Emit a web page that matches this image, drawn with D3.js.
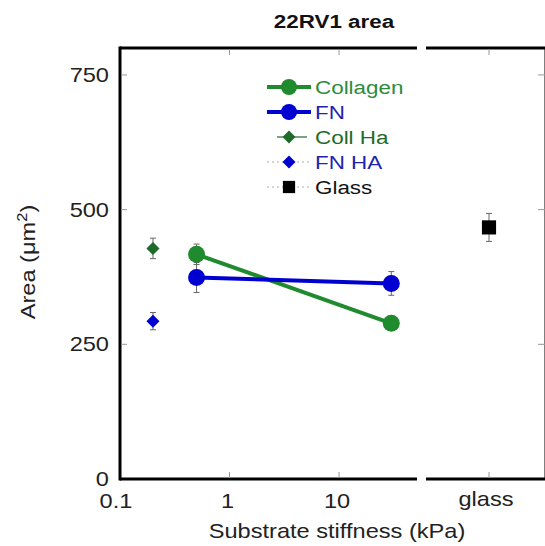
<!DOCTYPE html>
<html><head><meta charset="utf-8">
<script src="https://cdn.jsdelivr.net/npm/d3@7"></script>
<style>body{margin:0;background:#fff}svg{display:block}text{font-family:"Liberation Sans",Arial,sans-serif}</style>
</head><body><svg id="c" width="545" height="546"></svg>
<script>
// data
const stiffness = [0.5, 30];
const collagen = [417, 289];
const collagenErr = [19, 8];
const fn = [374, 363];
const fnErr = [28, 22];
const collHaX = [0.2];
const collHa = [428];
const collHaErr = [19];
const fnHaX = [0.2];
const fnHa = [293];
const fnHaErr = [16];
const glassCat = ["glass"];
const glass = [467];
const glassErr = [26];
const yTicks = [0, 250, 500, 750];
const xTicks = [0.1, 1, 10];
const legendNames = ["Collagen", "FN", "Coll Ha", "FN HA", "Glass"];

const green = "#1f8a2e", blue = "#0000d0", dgreen = "#1d6a2a", black = "#000";
const SX = 1.18; // horizontal text stretch seen in the reference
const svg = d3.select("#c");
const yTop = 48, yBot = 479;
const y = d3.scaleLinear().domain([0, 800]).range([yBot, yTop]);
const x = d3.scaleLog().domain([0.1, 51.5]).range([120, 417]);
const xg = d3.scalePoint().domain(glassCat).range([426, 552]).padding(0.5);

function txt(g, px, py, s, anchor, size, fill, extra) {
  return g.append("text").attr("transform", `translate(${px},${py}) scale(${SX},1)`)
    .attr("text-anchor", anchor).attr("font-size", size).attr("fill", fill).text(s);
}

// axes lines
const ax = svg.append("g").attr("stroke", "#000").attr("stroke-width", 3).attr("fill", "none");
ax.append("line").attr("x1", 120).attr("x2", 120).attr("y1", yTop - 1.5).attr("y2", yBot + 1.5);
[yTop, yBot].forEach(yy => {
  ax.append("line").attr("x1", 120).attr("x2", 417).attr("y1", yy).attr("y2", yy);
  ax.append("line").attr("x1", 426).attr("x2", 546).attr("y1", yy).attr("y2", yy);
});
ax.append("line").attr("x1", 546).attr("x2", 546).attr("y1", yTop).attr("y2", yBot);

// ticks
const tk = svg.append("g").attr("stroke", "#999").attr("stroke-width", 1);
yTicks.filter(v => v > 0).forEach(v => {
  tk.append("line").attr("x1", 121).attr("x2", 127).attr("y1", y(v)).attr("y2", y(v));
  tk.append("line").attr("x1", 538).attr("x2", 545).attr("y1", y(v)).attr("y2", y(v));
});
xTicks.filter(v => v > 0.1).forEach(v => {
  tk.append("line").attr("x1", x(v)).attr("x2", x(v)).attr("y1", yBot - 1).attr("y2", yBot - 7);
  tk.append("line").attr("x1", x(v)).attr("x2", x(v)).attr("y1", yTop + 1).attr("y2", yTop + 7);
});
glassCat.forEach(c => {
  tk.append("line").attr("x1", xg(c)).attr("x2", xg(c)).attr("y1", yBot - 1).attr("y2", yBot - 7);
  tk.append("line").attr("x1", xg(c)).attr("x2", xg(c)).attr("y1", yTop + 1).attr("y2", yTop + 7);
});

// tick labels
const lab = svg.append("g");
yTicks.forEach(v => txt(lab, 109, y(v) + 7, v, "end", 20, "#222"));
xTicks.forEach(v => txt(lab, x(v) - (v === 0.1 ? 4 : 2), 508, d3.format("~g")(v), "middle", 20, "#222"));
glassCat.forEach(c => txt(lab, xg(c) - 3, 506, c, "middle", 20, "#222"));

// titles
txt(svg, 334, 28, "22RV1 area", "middle", 19, "#111").attr("font-weight", "bold");
txt(svg, 337, 538, "Substrate stiffness (kPa)", "middle", 20, "#222");
const yl = svg.append("text").attr("transform", `translate(35,262) rotate(-90) scale(${SX},1)`).attr("text-anchor", "middle").attr("font-size", 20).attr("fill", "#222");
yl.append("tspan").text("Area (μm");
yl.append("tspan").attr("dy", -8).attr("font-size", 14).text("2");
yl.append("tspan").attr("dy", 8).text(")");

// error bars
function errbar(g, cx, v, e) {
  g.append("line").attr("x1", cx).attr("x2", cx).attr("y1", y(v - e)).attr("y2", y(v + e));
  [v - e, v + e].forEach(w => g.append("line").attr("x1", cx - 3).attr("x2", cx + 3).attr("y1", y(w)).attr("y2", y(w)));
}
const eb = svg.append("g").attr("stroke", "#666").attr("stroke-width", 1);
stiffness.forEach((s, i) => { errbar(eb, x(s), collagen[i], collagenErr[i]); errbar(eb, x(s), fn[i], fnErr[i]); });
collHaX.forEach((s, i) => errbar(eb, x(s), collHa[i], collHaErr[i]));
fnHaX.forEach((s, i) => errbar(eb, x(s), fnHa[i], fnHaErr[i]));
glassCat.forEach((c, i) => errbar(eb, xg(c), glass[i], glassErr[i]));

// lines
const line = d3.line().x(d => x(d[0])).y(d => y(d[1]));
svg.append("path").attr("d", line(stiffness.map((s, i) => [s, collagen[i]]))).attr("stroke", green).attr("stroke-width", 4).attr("fill", "none");
svg.append("path").attr("d", line(stiffness.map((s, i) => [s, fn[i]]))).attr("stroke", blue).attr("stroke-width", 4).attr("fill", "none");

// markers
const diamond = d3.symbol().type(d3.symbolSquare).size(85);
const square = d3.symbol().type(d3.symbolSquare).size(200);
stiffness.forEach((s, i) => {
  svg.append("circle").attr("cx", x(s)).attr("cy", y(collagen[i])).attr("r", 8.5).attr("fill", green);
  svg.append("circle").attr("cx", x(s)).attr("cy", y(fn[i])).attr("r", 8.5).attr("fill", blue);
});
collHaX.forEach((s, i) => svg.append("path").attr("d", diamond()).attr("transform", `translate(${x(s)},${y(collHa[i])}) rotate(45)`).attr("fill", dgreen));
fnHaX.forEach((s, i) => svg.append("path").attr("d", diamond()).attr("transform", `translate(${x(s)},${y(fnHa[i])}) rotate(45)`).attr("fill", blue));
glassCat.forEach((c, i) => svg.append("path").attr("d", square()).attr("transform", `translate(${xg(c)},${y(glass[i])})`).attr("fill", black));

// legend
const leg = svg.append("g");
const ly = [87, 112, 137, 162, 187];
const lcol = [green, blue, dgreen, blue, black];
const tcol = ["#2e8b3e", "#2222b0", "#1d6a2a", "#2222b0", "#111"];
legendNames.forEach((n, i) => {
  const g = leg.append("g").attr("transform", `translate(0,${ly[i]})`);
  if (i < 2) {
    g.append("line").attr("x1", 267).attr("x2", 311).attr("stroke", lcol[i]).attr("stroke-width", 4);
    g.append("circle").attr("cx", 289).attr("r", 8).attr("fill", lcol[i]);
  } else if (i === 2) {
    g.append("line").attr("x1", 277).attr("x2", 307).attr("stroke", lcol[i]).attr("stroke-width", 1.2);
    g.append("path").attr("d", diamond()).attr("transform", "translate(289,0) rotate(45)").attr("fill", lcol[i]);
  } else {
    g.append("line").attr("x1", 267).attr("x2", 311).attr("stroke", "#aaa").attr("stroke-width", 1).attr("stroke-dasharray", "2,3");
    g.append("path").attr("d", i === 3 ? diamond() : d3.symbol().type(d3.symbolSquare).size(150)()).attr("transform", `translate(289,0)${i === 3 ? " rotate(45)" : ""}`).attr("fill", lcol[i]);
  }
  txt(g, 315, 7, n, "start", 19, tcol[i]);
});
</script></body></html>
